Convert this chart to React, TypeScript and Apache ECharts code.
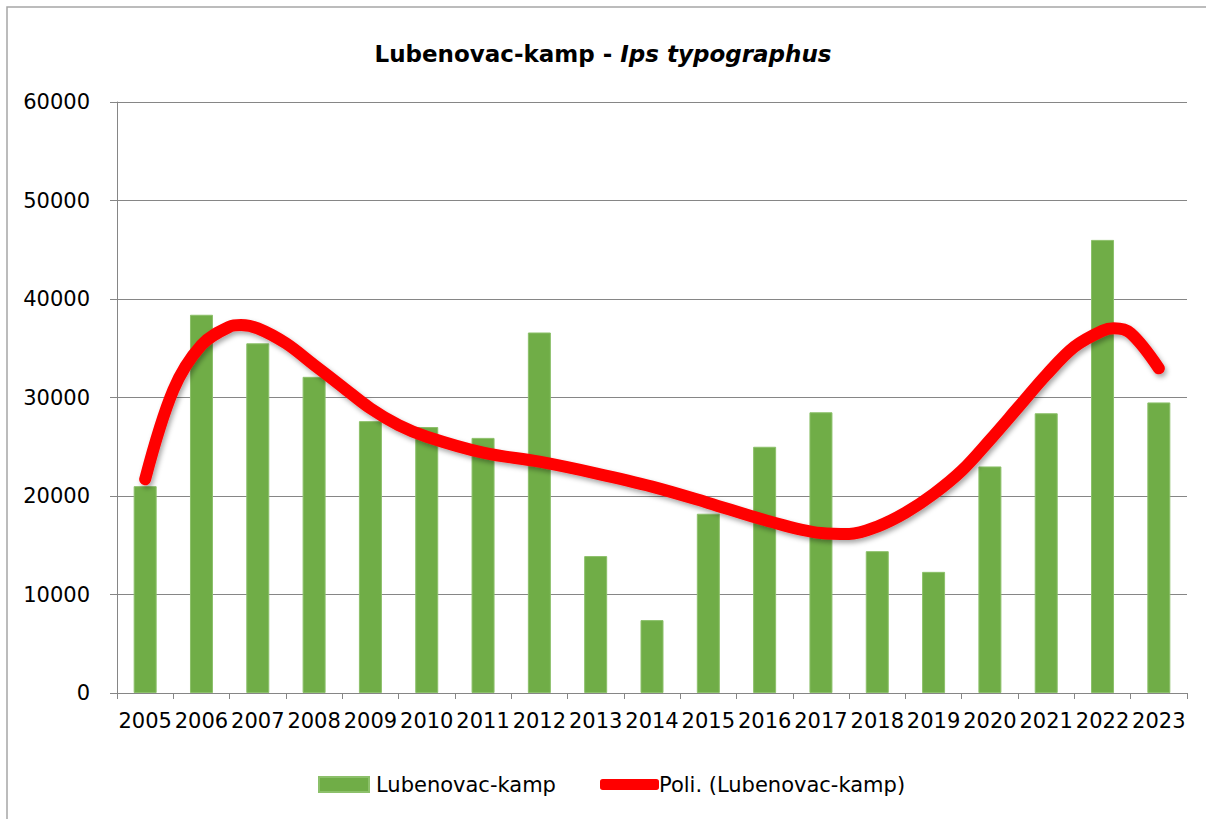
import React, { useEffect, useRef } from "react";
import * as echarts from "echarts";

const years = ["2005", "2006", "2007", "2008", "2009", "2010", "2011", "2012", "2013", "2014", "2015", "2016", "2017", "2018", "2019", "2020", "2021", "2022", "2023"];
const counts = [21000, 38400, 35500, 32100, 27600, 27000, 25900, 36600, 13900, 7400, 18200, 25000, 28500, 14400, 12300, 23000, 28400, 46000, 29500];

// trend line (polynomial): year position and value
const trendX = [2005, 2005.5, 2006, 2006.5, 2006.7, 2007, 2007.5, 2008, 2008.5, 2009, 2009.5, 2010, 2011, 2012, 2013, 2014, 2015, 2016, 2017, 2017.5, 2018, 2018.5, 2019, 2019.5, 2020, 2020.5, 2021, 2021.5, 2022, 2022.2, 2022.5, 2023];
const trendY = [21700, 30760, 35330, 37190, 37360, 37020, 35500, 33300, 31100, 28900, 27200, 26020, 24400, 23480, 22300, 20950, 19300, 17560, 16240, 16140, 16900, 18300, 20200, 22570, 25690, 28980, 32280, 35150, 36780, 37020, 36520, 32960];

const yMin = 0;
const yMax = 60000;
const yStep = 10000;

const barName = "Lubenovac-kamp";
const trendName = "Poli. (Lubenovac-kamp)";
const titleMain = "Lubenovac-kamp - ";
const titleItalic = "Ips typographus";

export default function App() {
  const ref = useRef<HTMLDivElement>(null);
  useEffect(() => {
    if (!ref.current) return;
    const chart = echarts.init(ref.current, undefined, { renderer: "svg" });
    const font = "DejaVu Sans";
    const axisColor = "#868686";
    chart.setOption({
      animation: false,
      backgroundColor: "#ffffff",
      textStyle: { fontFamily: font },
      title: {
        text: `{b|${titleMain}}{i|${titleItalic}}`,
        left: "center",
        top: 37,
        textStyle: {
          rich: {
            b: { fontFamily: font, fontWeight: "bold", fontSize: 23, color: "#000" },
            i: { fontFamily: font, fontWeight: "bold", fontStyle: "italic", fontSize: 23, color: "#000" },
          },
        },
      },
      graphic: [
        {
          type: "rect",
          shape: { x: 7, y: 7, width: 1300, height: 900 },
          style: { fill: "none", stroke: "#a6a6a6", lineWidth: 1.5 },
          silent: true,
          z: 100,
        },
      ],
      legend: [
        {
          data: [barName],
          left: 318,
          top: 774,
          padding: 0,
          itemWidth: 50,
          itemHeight: 15,
          icon: "rect",
          textStyle: { fontFamily: font, fontSize: 21, color: "#000", padding: [0, 0, 0, 2] },
        },
        {
          data: [trendName],
          left: 600,
          top: 774,
          padding: 0,
          itemWidth: 59,
          itemHeight: 11,
          icon: "roundRect",
          itemStyle: { color: "#ff0000" },
          textStyle: { fontFamily: font, fontSize: 21, color: "#000", padding: [0, 0, 0, -5] },
        },
      ],
      grid: { left: 117, right: 19, top: 102, bottom: 126, containLabel: false },
      xAxis: [
        {
          type: "category",
          data: years,
          axisLine: { lineStyle: { color: axisColor, width: 1 } },
          axisTick: { show: true, length: 6, interval: 0, lineStyle: { color: axisColor } },
          axisLabel: { interval: 0, margin: 17, fontFamily: font, fontSize: 21, color: "#000" },
        },
        {
          type: "value",
          min: 2004.5,
          max: 2023.5,
          show: false,
        },
      ],
      yAxis: {
        type: "value",
        min: yMin,
        max: yMax,
        interval: yStep,
        axisLine: { show: true, lineStyle: { color: axisColor, width: 1 } },
        axisTick: { show: true, length: 7, lineStyle: { color: axisColor } },
        splitLine: { lineStyle: { color: axisColor, width: 1 } },
        axisLabel: {
          margin: 27,
          fontFamily: font,
          fontSize: 21,
          color: "#000",
          formatter: (v: number) => String(v),
        },
      },
      series: [
        {
          name: barName,
          type: "bar",
          data: counts,
          barWidth: 23,
          itemStyle: { color: "#70AD47", borderColor: "#8cc06a", borderWidth: 1 },
          z: 2,
        },
        {
          name: trendName,
          type: "line",
          xAxisIndex: 1,
          data: trendX.map((x, i) => [x, trendY[i]]),
          smooth: 0.35,
          symbol: "none",
          lineStyle: {
            color: "#ff0000",
            width: 12,
            cap: "round",
            join: "round",
            shadowColor: "rgba(0,0,0,0.35)",
            shadowBlur: 5,
            shadowOffsetX: 2,
            shadowOffsetY: 3,
          },
          itemStyle: { color: "#ff0000" },
          z: 3,
        },
      ],
    });
    return () => chart.dispose();
  }, []);
  return (
    <div
      ref={ref}
      style={{ position: "fixed", left: 0, top: 0, width: 1206, height: 819, background: "#fff" }}
    />
  );
}
